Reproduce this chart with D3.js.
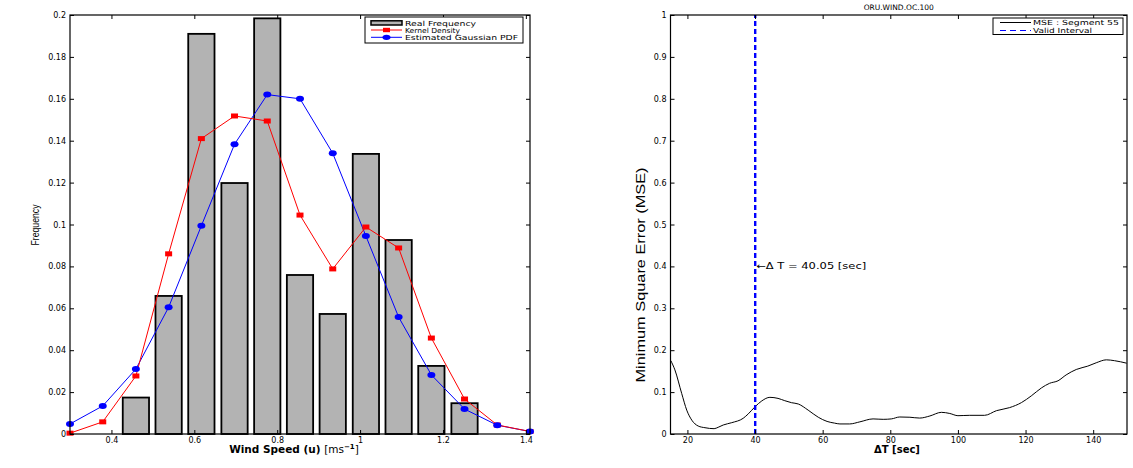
<!DOCTYPE html>
<html lang="en">
<head>
<meta charset="UTF-8">
<title>Wind speed frequency and MSE</title>
<script src="https://d3js.org/d3.v7.min.js"></script>
<style>
    body { margin: 0; background: #fff; }
    svg { display: block; }
    .tick text { font-family: "DejaVu Sans", sans-serif; font-size: 8px; fill: #000; }
    .tick line { stroke: #000; }
    .legend text { font-family: "DejaVu Sans", sans-serif; font-size: 7px; }
</style>
</head>
<body>
<svg id="chart" width="1133" height="468"></svg>
<script>
// ---- left panel data: wind speed distribution
const speeds = [0.300, 0.379, 0.459, 0.538, 0.617, 0.697, 0.776, 0.855, 0.934, 1.014, 1.093, 1.172, 1.252, 1.331, 1.410];
const kernelDensity = [0.0004, 0.0058, 0.0277, 0.086, 0.141, 0.1518, 0.1494, 0.1045, 0.0788, 0.0988, 0.0888, 0.0458, 0.0167, 0.0043, 0.0012];
const gaussPdf = [0.0048, 0.0134, 0.031, 0.0605, 0.0994, 0.1383, 0.162, 0.160, 0.134, 0.0945, 0.0558, 0.0282, 0.0119, 0.0042, 0.0012];
const barSpeeds = [0.459, 0.538, 0.617, 0.697, 0.776, 0.855, 0.934, 1.014, 1.093, 1.172, 1.252];
const realFreq = [0.0174, 0.0659, 0.191, 0.1198, 0.1984, 0.0759, 0.0573, 0.1337, 0.0926, 0.0325, 0.0147];
const speedTicks = [0.4, 0.6, 0.8, 1, 1.2, 1.4];
const freqTicks = [0, 0.02, 0.04, 0.06, 0.08, 0.1, 0.12, 0.14, 0.16, 0.18, 0.2];
const legendLeft = ["Real Frequency", "Kernel Density", "Estimated Gaussian PDF"];

// ---- right panel data: MSE vs delta T
const deltaT = [15.1, 16.3, 18.3, 19.8, 21.3, 23.2, 25.2, 27.9, 29.1, 30.6, 33.1, 36.5, 38, 40, 42, 44.4, 46.8, 48.8, 50.8, 52.8, 55.7, 58.7, 61.3, 63.5, 65.1, 68, 71, 74.9, 77.9, 80.3, 82.8, 85.8, 88.7, 91.7, 95.1, 97.6, 100, 103.5, 107.9, 111.4, 115.3, 118.8, 121.7, 124.7, 127.1, 129.6, 132, 135, 138.4, 140.9, 143.9, 146.3, 149.9];
const mse = [0.175, 0.153, 0.097, 0.057, 0.033, 0.019, 0.015, 0.0127, 0.016, 0.0215, 0.027, 0.0375, 0.048, 0.065, 0.079, 0.0875, 0.085, 0.0795, 0.0747, 0.0716, 0.057, 0.040, 0.030, 0.026, 0.024, 0.024, 0.029, 0.036, 0.035, 0.036, 0.0406, 0.040, 0.038, 0.043, 0.0517, 0.049, 0.0437, 0.0446, 0.0446, 0.0557, 0.063, 0.075, 0.091, 0.110, 0.121, 0.127, 0.141, 0.154, 0.162, 0.170, 0.177, 0.175, 0.169];
const validInterval = 40.05;
const dtTicks = [20, 40, 60, 80, 100, 120, 140];
const mseTicks = [0, 0.1, 0.2, 0.3, 0.4, 0.5, 0.6, 0.7, 0.8, 0.9, 1];
const legendRight = ["MSE : Segment 55", "Valid Interval"];

const svg = d3.select("#chart");
const top_ = 15, bottom = 434;

// box with inward ticks on all four sides (matlab look)
function frame(g, x, y, xt, yt, xfmt, yfmt) {
    const [x0, x1] = x.range();
    g.append("g").attr("transform", `translate(0,${bottom})`)
        .call(d3.axisBottom(x).tickValues(xt).tickFormat(xfmt).tickSizeInner(-4).tickSizeOuter(0).tickPadding(3))
        .call(a => a.select(".domain").remove());
    g.append("g").attr("transform", `translate(0,${top_})`)
        .call(d3.axisTop(x).tickValues(xt).tickFormat("").tickSizeInner(-4).tickSizeOuter(0))
        .call(a => a.select(".domain").remove());
    g.append("g").attr("transform", `translate(${x0},0)`)
        .call(d3.axisLeft(y).tickValues(yt).tickFormat(yfmt).tickSizeInner(-4).tickSizeOuter(0).tickPadding(4))
        .call(a => a.select(".domain").remove());
    g.append("g").attr("transform", `translate(${x1},0)`)
        .call(d3.axisRight(y).tickValues(yt).tickFormat("").tickSizeInner(-4).tickSizeOuter(0))
        .call(a => a.select(".domain").remove());
    g.append("rect").attr("x", x0).attr("y", top_).attr("width", x1 - x0).attr("height", bottom - top_)
        .attr("fill", "none").attr("stroke", "#000").attr("stroke-width", 1.2);
}

// ================= left panel =================
const xL = d3.scaleLinear().domain([0.3, 1.41]).range([70, 530]);
const yL = d3.scaleLinear().domain([0, 0.2]).range([bottom, top_]);
const left = svg.append("g");
const barW = xL(0.3634) - xL(0.3);

left.selectAll(".bar").data(barSpeeds).enter().append("rect")
    .attr("class", "bar")
    .attr("x", d => xL(d) - barW / 2)
    .attr("y", (d, i) => yL(realFreq[i]))
    .attr("width", barW)
    .attr("height", (d, i) => bottom - yL(realFreq[i]))
    .attr("fill", "#b3b3b3").attr("stroke", "#000").attr("stroke-width", 1.8);

const lineL = d3.line().x(d => xL(d[0])).y(d => yL(d[1]));
const kd = speeds.map((s, i) => [s, kernelDensity[i]]);
const gp = speeds.map((s, i) => [s, gaussPdf[i]]);

left.append("path").attr("d", lineL(gp)).attr("fill", "none").attr("stroke", "#0000ff").attr("stroke-width", 1);
left.append("path").attr("d", lineL(kd)).attr("fill", "none").attr("stroke", "#ff0000").attr("stroke-width", 1);
left.selectAll(".kd").data(kd).enter().append("rect")
    .attr("x", d => xL(d[0]) - 3.5).attr("y", d => yL(d[1]) - 2.5)
    .attr("width", 7).attr("height", 5).attr("fill", "#ff0000");
left.selectAll(".gp").data(gp).enter().append("ellipse")
    .attr("cx", d => xL(d[0])).attr("cy", d => yL(d[1]))
    .attr("rx", 4).attr("ry", 3).attr("fill", "#0000ff");

frame(left, xL, yL, speedTicks, freqTicks, d3.format("~g"), d3.format("~g"));

left.append("text")
    .attr("transform", "translate(39,225) rotate(-90)")
    .attr("text-anchor", "middle")
    .attr("font-family", "Liberation Sans, sans-serif").attr("font-size", 11)
    .attr("textLength", 41).attr("lengthAdjust", "spacingAndGlyphs")
    .text("Frequency");

const xlab = left.append("text")
    .attr("x", 294).attr("y", 453)
    .attr("text-anchor", "middle")
    .attr("font-family", "DejaVu Sans, sans-serif").attr("font-size", 10.5).attr("font-weight", "bold");
xlab.append("tspan").text("Wind Speed (u) ");
xlab.append("tspan").attr("font-weight", "normal").text("[ms");
xlab.append("tspan").attr("dy", -4).attr("font-size", 7).text("\u22121");
xlab.append("tspan").attr("dy", 4).attr("font-weight", "normal").text("]");

// legend
const legL = left.append("g").attr("class", "legend");
legL.append("rect").attr("x", 365).attr("y", 17).attr("width", 158).attr("height", 26)
    .attr("fill", "#fff").attr("stroke", "#000").attr("stroke-width", 1);
legL.append("rect").attr("x", 371).attr("y", 20.8).attr("width", 31).attr("height", 4.2)
    .attr("fill", "#b3b3b3").attr("stroke", "#000").attr("stroke-width", 1.5);
legL.append("line").attr("x1", 371).attr("x2", 402).attr("y1", 30).attr("y2", 30).attr("stroke", "#ff0000");
legL.append("rect").attr("x", 383).attr("y", 27.8).attr("width", 7).attr("height", 4.4).attr("fill", "#ff0000");
legL.append("line").attr("x1", 371).attr("x2", 402).attr("y1", 37.3).attr("y2", 37.3).attr("stroke", "#0000ff");
legL.append("ellipse").attr("cx", 386.5).attr("cy", 37.3).attr("rx", 4).attr("ry", 2.6).attr("fill", "#0000ff");
const legLWidths = [71, 55, 113];
legendLeft.forEach((t, i) => {
    legL.append("text").attr("x", 405).attr("y", 25.5 + i * 7.3)
        .attr("textLength", legLWidths[i]).attr("lengthAdjust", "spacingAndGlyphs").text(t);
});

// ================= right panel =================
const xR = d3.scaleLinear().domain([15, 150]).range([670.5, 1127]);
const yR = d3.scaleLinear().domain([0, 1]).range([bottom, top_]);
const right = svg.append("g");

right.append("path")
    .attr("d", d3.line().x(d => xR(d[0])).y(d => yR(d[1])).curve(d3.curveMonotoneX)(deltaT.map((t, i) => [t, mse[i]])))
    .attr("fill", "none").attr("stroke", "#000").attr("stroke-width", 1);

right.append("line")
    .attr("x1", xR(validInterval)).attr("x2", xR(validInterval))
    .attr("y1", yR(0)).attr("y2", yR(1))
    .attr("stroke", "#0000ff").attr("stroke-width", 2.4).attr("stroke-dasharray", "5,3");

frame(right, xR, yR, dtTicks, mseTicks, d3.format("~g"), d3.format("~g"));

right.append("text")
    .attr("x", xR(validInterval) + 1).attr("y", yR(0.4) + 3)
    .attr("font-family", "DejaVu Sans, sans-serif").attr("font-size", 9)
    .attr("textLength", 110).attr("lengthAdjust", "spacingAndGlyphs")
    .text("\u2190\u0394 T = 40.05 [sec]");

right.append("text")
    .attr("x", (670.5 + 1127) / 2).attr("y", 10)
    .attr("text-anchor", "middle")
    .attr("font-family", "DejaVu Sans, sans-serif").attr("font-size", 7.5)
    .text("ORU.WIND.OC.100");

right.append("text")
    .attr("transform", "translate(645,275) rotate(-90)")
    .attr("text-anchor", "middle")
    .attr("font-family", "Liberation Sans, sans-serif").attr("font-size", 12)
    .attr("textLength", 215).attr("lengthAdjust", "spacingAndGlyphs")
    .text("Minimum Square Error (MSE)");

right.append("text")
    .attr("x", 897).attr("y", 453)
    .attr("text-anchor", "middle")
    .attr("font-family", "DejaVu Sans, sans-serif").attr("font-size", 10).attr("font-weight", "bold")
    .text("\u0394T [sec]");

const legR = right.append("g").attr("class", "legend");
legR.append("rect").attr("x", 993).attr("y", 18).attr("width", 130).attr("height", 16.5)
    .attr("fill", "#fff").attr("stroke", "#000").attr("stroke-width", 1);
legR.append("line").attr("x1", 1000).attr("x2", 1031).attr("y1", 22.5).attr("y2", 22.5).attr("stroke", "#000");
legR.append("line").attr("x1", 1000).attr("x2", 1031).attr("y1", 30.5).attr("y2", 30.5)
    .attr("stroke", "#0000ff").attr("stroke-width", 1.2).attr("stroke-dasharray", "6,4");
const legRWidths = [86, 59];
legendRight.forEach((t, i) => {
    legR.append("text").attr("x", 1033).attr("y", 25 + i * 8)
        .attr("textLength", legRWidths[i]).attr("lengthAdjust", "spacingAndGlyphs").text(t);
});
</script>
</body>
</html>
